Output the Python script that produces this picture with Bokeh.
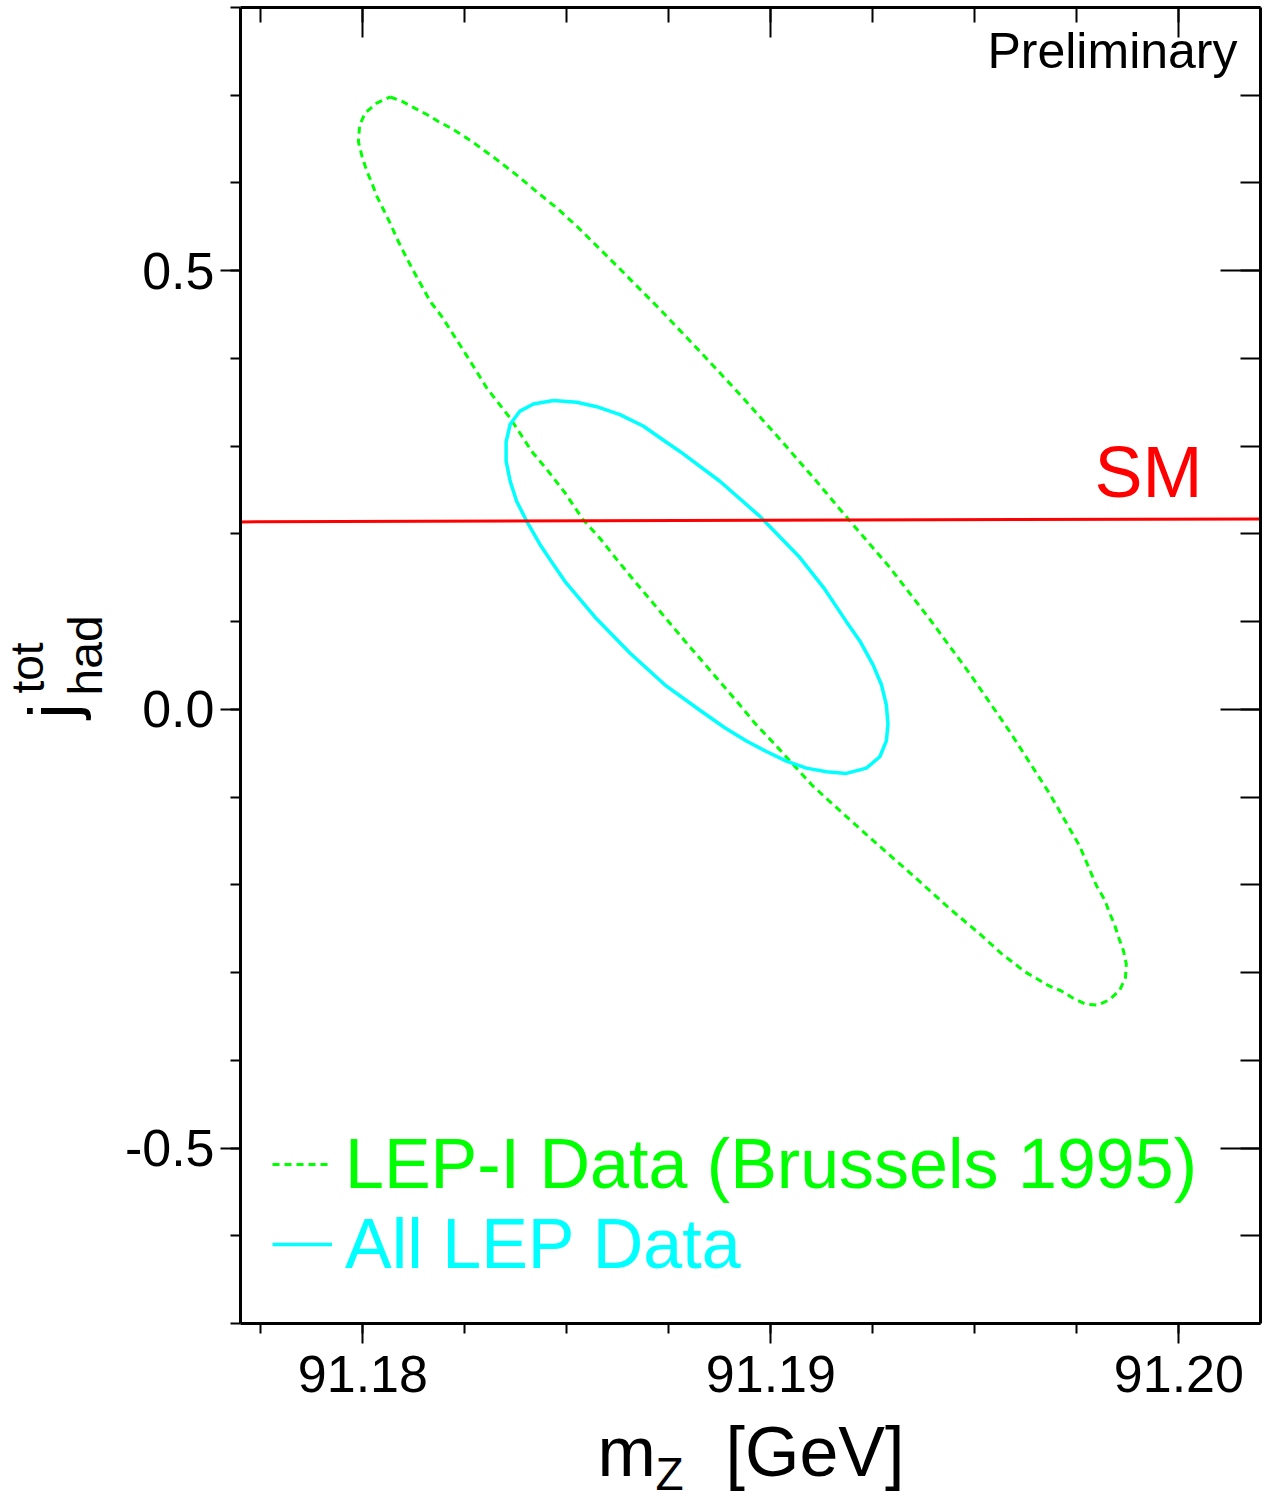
from bokeh.plotting import figure
from bokeh.layouts import row, column
from bokeh.models import (Range1d, FixedTicker, PrintfTickFormatter, CustomJSTickFormatter,
                          LinearAxis, Label, Legend, LegendItem)
from bokeh.embed import file_html
from bokeh.resources import INLINE

# 68% CL contour, LEP-I data (Brussels 1995)
mz_lep1 = [91.18067, 91.18096, 91.18128, 91.18157, 91.18185, 91.18214, 91.18242, 91.18271,
           91.18324, 91.18377, 91.18426, 91.18479, 91.18528, 91.18630, 91.18728, 91.18826,
           91.18924, 91.19022, 91.19108, 91.19193, 91.19291, 91.19389, 91.19487, 91.19585,
           91.19683, 91.19757, 91.19798, 91.19818, 91.19830, 91.19842, 91.19853, 91.19864,
           91.19871, 91.19869, 91.19855, 91.19830, 91.19802, 91.19771, 91.19740, 91.19712,
           91.19681, 91.19652, 91.19622, 91.19595, 91.19569, 91.19512, 91.19438, 91.19340,
           91.19242, 91.19144, 91.19100, 91.19055, 91.19006, 91.18961, 91.18924, 91.18789,
           91.18659, 91.18622, 91.18581, 91.18540, 91.18495, 91.18455, 91.18414, 91.18361,
           91.18304, 91.18248, 91.18193, 91.18165, 91.18145, 91.18120, 91.18099, 91.18083,
           91.18067, 91.18050, 91.18034, 91.18022, 91.18010, 91.17998, 91.17989, 91.17992,
           91.18006, 91.18034, 91.18067]
j_lep1 = [0.698, 0.693, 0.685, 0.678, 0.670, 0.663, 0.655, 0.646,
          0.628, 0.609, 0.590, 0.570, 0.549, 0.502, 0.456, 0.408,
          0.359, 0.308, 0.262, 0.215, 0.162, 0.103, 0.041, -0.025,
          -0.096, -0.156, -0.201, -0.217, -0.232, -0.245, -0.261, -0.275,
          -0.290, -0.306, -0.320, -0.331, -0.337, -0.336, -0.329, -0.321,
          -0.315, -0.307, -0.299, -0.289, -0.280, -0.256, -0.227, -0.186,
          -0.146, -0.105, -0.086, -0.063, -0.038, -0.016, 0.005, 0.078,
          0.150, 0.171, 0.195, 0.216, 0.247, 0.271, 0.294, 0.332,
          0.366, 0.408, 0.448, 0.465, 0.482, 0.503, 0.522, 0.537,
          0.554, 0.570, 0.585, 0.600, 0.613, 0.630, 0.647, 0.666,
          0.680, 0.691, 0.698]

# 68% CL contour, all LEP data
mz_all = [91.18467, 91.18524, 91.18573, 91.18630, 91.18687, 91.18736, 91.18777, 91.18875,
          91.18973, 91.19071, 91.19132, 91.19185, 91.19218, 91.19250, 91.19271, 91.19283,
          91.19287, 91.19283, 91.19267, 91.19234, 91.19185, 91.19136, 91.19087, 91.19038,
          91.18989, 91.18940, 91.18887, 91.18826, 91.18740, 91.18655, 91.18569, 91.18495,
          91.18467, 91.18434, 91.18402, 91.18377, 91.18361, 91.18351, 91.18351, 91.18361,
          91.18385, 91.18418, 91.18467]
j_all = [0.352, 0.350, 0.345, 0.336, 0.323, 0.307, 0.294, 0.260,
         0.220, 0.173, 0.137, 0.100, 0.078, 0.051, 0.028, 0.005,
         -0.017, -0.036, -0.054, -0.067, -0.073, -0.071, -0.067, -0.059,
         -0.048, -0.036, -0.021, -0.001, 0.028, 0.064, 0.105, 0.146,
         0.165, 0.188, 0.214, 0.237, 0.260, 0.283, 0.305, 0.325,
         0.340, 0.348, 0.352]

# Standard Model prediction
mz_sm = [91.177, 91.202]
j_sm = [0.2137, 0.2171]

x_major = [91.18, 91.19, 91.20]
x_minor = [91.1775, 91.18, 91.1825, 91.185, 91.1875, 91.19, 91.1925, 91.195, 91.1975, 91.20]
y_major = [-0.5, 0.0, 0.5]
y_minor = [-0.7, -0.6, -0.5, -0.4, -0.3, -0.2, -0.1, 0.0, 0.1, 0.2, 0.3, 0.4, 0.5, 0.6, 0.7, 0.8]

FONT = "Liberation Sans"
GREEN = "#00ff00"
CYAN = "#00ffff"
RED = "#ff0000"

YLAB_W = 120
MAIN_H = 1413

p = figure(width=1269 - YLAB_W, height=MAIN_H,
           x_range=Range1d(91.177, 91.202), y_range=Range1d(-0.7, 0.8),
           output_backend="svg", toolbar_location=None,
           min_border_left=240 - YLAB_W, min_border_right=9,
           min_border_top=7, min_border_bottom=MAIN_H - 1323)
p.xgrid.visible = False
p.ygrid.visible = False
p.outline_line_color = None
p.background_fill_color = "white"
p.border_fill_color = "white"

xticker = FixedTicker(ticks=x_major, minor_ticks=x_minor)
yticker = FixedTicker(ticks=y_major, minor_ticks=y_minor)
blank = CustomJSTickFormatter(code="return ''")


def style_axis(ax, tick_in, tick_out, labels):
    ax.axis_line_width = 3
    ax.axis_line_color = "black"
    ax.major_tick_line_width = 2
    ax.minor_tick_line_width = 2
    ax.major_tick_line_color = "black"
    ax.minor_tick_line_color = "black"
    ax.major_tick_in = tick_in
    ax.major_tick_out = tick_out
    ax.minor_tick_in = tick_in // 2
    ax.minor_tick_out = tick_out // 2
    if labels:
        ax.major_label_text_font = FONT
        ax.major_label_text_font_size = "52px"
        ax.major_label_text_color = "black"
    else:
        ax.formatter = blank
        ax.major_label_standoff = 0


xax = p.xaxis[0]
xax.ticker = xticker
xax.formatter = PrintfTickFormatter(format="%.2f")
style_axis(xax, 0, 20, True)
xax.major_label_standoff = 12

yax = p.yaxis[0]
yax.ticker = yticker
yax.formatter = PrintfTickFormatter(format="%.1f")
style_axis(yax, 0, 20, True)
yax.major_label_standoff = 6

rax = LinearAxis(ticker=yticker)
style_axis(rax, 40, 0, False)
p.add_layout(rax, "right")

tax = LinearAxis(ticker=xticker)
style_axis(tax, 30, 0, False)
p.add_layout(tax, "above")

r_lep1 = p.line(mz_lep1, j_lep1, line_color=GREEN, line_width=3, line_dash="7 5")
r_all = p.line(mz_all, j_all, line_color=CYAN, line_width=3.5)
p.line(mz_sm, j_sm, line_color=RED, line_width=3)

for item_label, rend, color, ybot in [
        ("LEP-I Data (Brussels 1995)", r_lep1, GREEN, 119),
        ("All LEP Data", r_all, CYAN, 39)]:
    leg = Legend(items=[LegendItem(label=item_label, renderers=[rend])],
                 location=(32, ybot), padding=0, margin=0, spacing=0,
                 glyph_width=60, glyph_height=80, label_height=80,
                 label_standoff=13, border_line_color=None,
                 background_fill_alpha=0,
                 label_text_font=FONT, label_text_font_size="70px",
                 label_text_color=color)
    p.add_layout(leg)


def add_text(fig, text, sx, sy, size, color="black", align="left", angle=0.0):
    fig.add_layout(Label(x=sx, y=sy, x_units="screen", y_units="screen", text=text,
                         text_font=FONT, text_font_size=size, text_color=color,
                         text_align=align, text_baseline="alphabetic", angle=angle))


add_text(p, "Preliminary", 997, 1273, "50px", align="right")
add_text(p, "SM", 962, 852, "72px", color=RED, align="right")


def text_panel(width, height):
    f = figure(width=width, height=height, x_range=Range1d(0, 1), y_range=Range1d(0, 1),
               output_backend="svg", toolbar_location=None,
               x_axis_location=None, y_axis_location=None, min_border=0)
    f.outline_line_color = None
    f.grid.visible = False
    return f


# y-axis title: j_had^tot (reads bottom to top); the panel's frame lines up with the plot frame
fig_y = text_panel(YLAB_W, MAIN_H)
add_text(fig_y, "j", 52, 605, "68px", angle=1.5708)
add_text(fig_y, "had", 85, 628, "48px", angle=1.5708)
add_text(fig_y, "tot", 27, 630, "46px", angle=1.5708)

# x-axis title: m_Z [GeV]
fig_x = text_panel(1269, 1502 - MAIN_H)
add_text(fig_x, "m", 597, 51, "70px")
add_text(fig_x, "Z", 655, 29, "46px")
add_text(fig_x, "[GeV]", 725, 51, "70px")

layout = column(row(fig_y, p), fig_x)
open("out.html", "w").write(file_html(layout, INLINE))
